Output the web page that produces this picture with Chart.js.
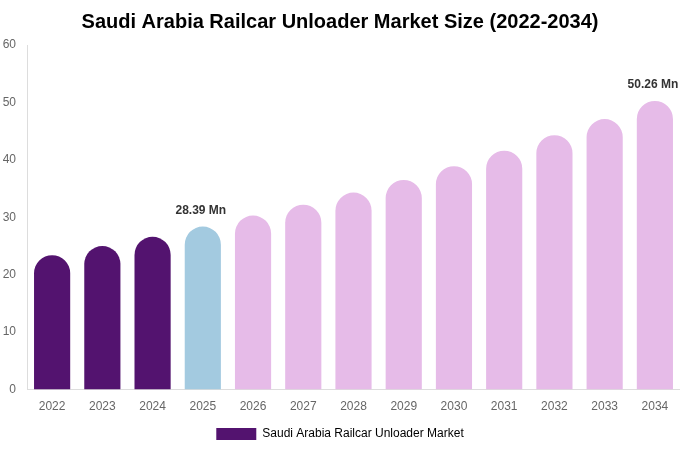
<!DOCTYPE html>
<html>
<head>
<meta charset="utf-8">
<script src="https://cdn.jsdelivr.net/npm/chart.js@4.4.0/dist/chart.umd.min.js"></script>
<style>
html,body{margin:0;padding:0;background:#fff;}
#wrap{width:680px;height:450px;}
</style>
</head>
<body>
<div id="wrap"><canvas id="c" width="680" height="450"></canvas></div>
<script>
const categories = ['2022','2023','2024','2025','2026','2027','2028','2029','2030','2031','2032','2033','2034'];
const values = [23.4, 25.0, 26.6, 28.39, 30.3, 32.2, 34.3, 36.5, 38.9, 41.6, 44.3, 47.1, 50.26];
const barColors = ['#53136f','#53136f','#53136f','#a3cae0','#e6bbe8','#e6bbe8','#e6bbe8','#e6bbe8','#e6bbe8','#e6bbe8','#e6bbe8','#e6bbe8','#e6bbe8'];
const labelledIndexes = [3, 12];
const seriesName = 'Saudi Arabia Railcar Unloader Market';
const titleText = 'Saudi Arabia Railcar Unloader Market Size (2022-2034)';
const FONT = '"Liberation Sans", Arial, sans-serif';

const valueLabels = {
  id: 'valueLabels',
  afterDatasetsDraw(chart) {
    const ctx = chart.ctx;
    const meta = chart.getDatasetMeta(0);
    ctx.save();
    ctx.font = 'bold 12px ' + FONT;
    ctx.fillStyle = '#333';
    ctx.textAlign = 'center';
    ctx.textBaseline = 'bottom';
    labelledIndexes.forEach(i => {
      const el = meta.data[i];
      ctx.fillText(values[i].toFixed(2) + ' Mn', el.x - 2, el.y - 10);
    });
    ctx.restore();
  }
};

new Chart(document.getElementById('c'), {
  type: 'bar',
  data: {
    labels: categories,
    datasets: [{
      label: seriesName,
      data: values,
      backgroundColor: barColors,
      borderRadius: 100,
      borderSkipped: 'start'
    }]
  },
  options: {
    responsive: false,
    animation: false,
    layout: { padding: { top: 0, right: 0, left: 0, bottom: 0 } },
    plugins: {
      title: {
        display: true,
        text: titleText,
        color: '#000',
        font: { family: FONT, size: 20, weight: 'bold' },
        padding: { top: 10, bottom: 11 }
      },
      legend: {
        position: 'bottom',
        labels: {
          color: '#666',
          padding: 4,
          font: { family: FONT, size: 12 },
          boxWidth: 40,
          boxHeight: 12,
          generateLabels() {
            return [{ text: seriesName, fillStyle: '#53136f', strokeStyle: '#53136f', lineWidth: 0, hidden: false, datasetIndex: 0 }];
          }
        }
      },
      tooltip: { enabled: false }
    },
    scales: {
      x: {
        grid: { display: false, drawTicks: false },
        border: { display: true, color: '#ddd' },
        ticks: { color: '#666', font: { family: FONT, size: 12 }, padding: 10 }
      },
      y: {
        min: 0, max: 60,
        afterFit(scale) { scale.width = 27; },
        grid: { display: false, drawTicks: false },
        border: { display: true, color: '#ddd' },
        ticks: { stepSize: 10, color: '#666', font: { family: FONT, size: 12 }, padding: 11 }
      }
    }
  },
  plugins: [valueLabels]
});
</script>
</body>
</html>
